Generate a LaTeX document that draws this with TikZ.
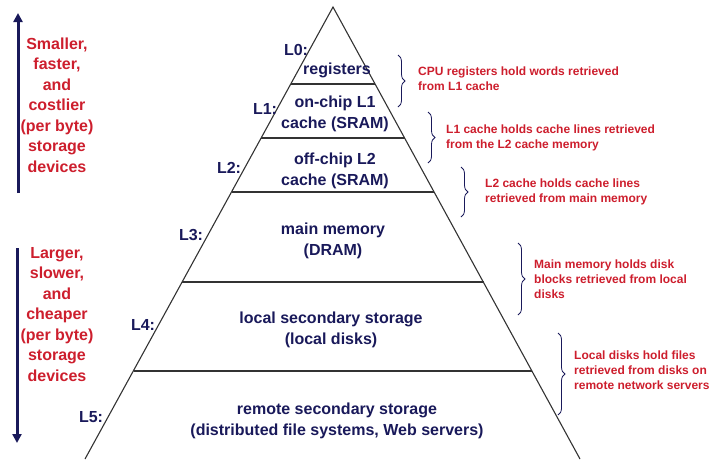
\documentclass[tikz,border=0pt]{standalone}
\usepackage{fontspec}
\setmainfont{Liberation Sans}
\usetikzlibrary{decorations.pathreplacing,arrows.meta}
\definecolor{navy}{RGB}{25,25,90}
\definecolor{redtxt}{RGB}{205,30,45}
\begin{document}
\begin{tikzpicture}[x=1pt,y=-1pt,
 layer/.style={font=\bfseries\fontsize{16}{21}\selectfont, text=navy, align=center, inner sep=0pt},
 lvl/.style={font=\bfseries\fontsize{16}{20}\selectfont, text=navy, inner sep=0pt},
 note/.style={font=\bfseries\fontsize{12}{15}\selectfont, text=redtxt, align=left, inner sep=0pt, anchor=west},
 side/.style={font=\bfseries\fontsize{16}{20.5}\selectfont, text=redtxt, align=center, inner sep=0pt},
 pedge/.style={draw=black!80, line width=1.1pt},
 brc/.style={draw=navy, line width=0.8pt, decorate, decoration={brace, amplitude=7pt}},
 bigarrow/.style={draw=navy, line width=3pt, -{Triangle[length=9pt,width=9pt]}}
]
\useasboundingbox (0,0) rectangle (714,459);
% pyramid
\coordinate (apex) at (333,7);
\coordinate (bl) at (85,459);
\coordinate (br) at (580,459);
\draw[pedge] (bl) -- (apex) -- (br);
\foreach \y in {84,138,192,282,371}{
  \pgfmathsetmacro\h{(\y-7)*0.5476}
  \draw[pedge] (333-\h,\y) -- (333+\h,\y);
}
% layer texts
\node[layer] (r0) at (337,70) {registers};
\node[layer] (r1) at (335,114) {on-chip L1\\cache (SRAM)};
\node[layer] (r2) at (335,171) {off-chip L2\\cache (SRAM)};
\node[layer] (r3) at (333,241) {main memory\\(DRAM)};
\node[layer] (r4) at (331,330) {local secondary storage\\(local disks)};
\node[layer] (r5) at (337,421) {remote secondary storage\\(distributed file systems, Web servers)};
% level labels
\node[lvl] (l0) at (296,50) {L0:};
\node[lvl] (l1) at (265,109) {L1:};
\node[lvl] (l2) at (229,168) {L2:};
\node[lvl] (l3) at (191,235) {L3:};
\node[lvl] (l4) at (143,325) {L4:};
\node[lvl] (l5) at (91,417) {L5:};
% braces
\coordinate (b1t) at (398,55);  \coordinate (b1b) at (398,107);
\coordinate (b2t) at (428,112); \coordinate (b2b) at (428,163);
\coordinate (b3t) at (461,167); \coordinate (b3b) at (461,217);
\coordinate (b4t) at (518,243); \coordinate (b4b) at (518,315);
\coordinate (b5t) at (558,333); \coordinate (b5b) at (558,415);
\draw[brc] (b1t) -- (b1b);
\draw[brc] (b2t) -- (b2b);
\draw[brc] (b3t) -- (b3b);
\draw[brc] (b4t) -- (b4b);
\draw[brc] (b5t) -- (b5b);
% notes
\node[note] (n1) at (418,79) {CPU registers hold words retrieved\\from L1 cache};
\node[note] (n2) at (446,138) {L1 cache holds cache lines retrieved\\from the L2 cache memory};
\node[note] (n3) at (485,192) {L2 cache holds cache lines\\retrieved from main memory};
\node[note] (n4) at (534,279) {Main memory holds disk\\blocks retrieved from local\\disks};
\node[note] (n5) at (574,370.5) {Local disks hold files\\retrieved from disks on\\remote network servers};
% side texts and arrows
\node[side] (s1) at (57,105) {Smaller,\\faster,\\and\\costlier\\(per byte)\\storage\\devices};
\node[side] (s2) at (57,314.5) {Larger,\\slower,\\and\\cheaper\\(per byte)\\storage\\devices};
\coordinate (upS) at (18,193); \coordinate (upE) at (18,13);
\coordinate (dnS) at (17,248); \coordinate (dnE) at (17,443);
\draw[bigarrow] (upS) -- (upE);
\draw[bigarrow] (dnS) -- (dnE);
\end{tikzpicture}
\end{document}
